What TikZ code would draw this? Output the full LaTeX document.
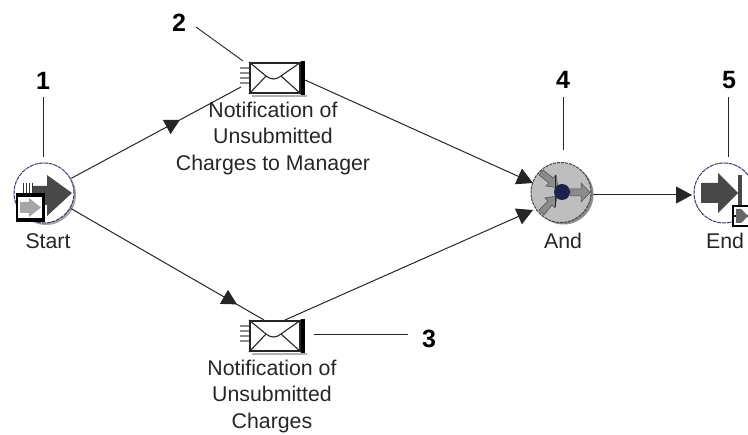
\documentclass[tikz,border=0pt]{standalone}
\usepackage{fontspec}
\setmainfont{Liberation Sans}
\usetikzlibrary{arrows.meta,decorations.markings,calc}
\definecolor{navyline}{HTML}{3A3A6E}
\definecolor{navydot}{HTML}{20204E}
\definecolor{darkarrow}{HTML}{484848}
\definecolor{andgrey}{HTML}{BEBEBE}
\tikzset{
  x=1pt,y=-1pt,
  roundnode/.style={circle,minimum size=60pt,inner sep=0pt,outer sep=1pt,draw=navyline,line width=1pt,dash pattern=on 4pt off 0.8pt,fill=white},
  andnode/.style={roundnode,draw=black!75,fill=andgrey,dash pattern=on 3pt off 1pt},
  envnode/.style={rectangle,minimum width=50pt,minimum height=30pt,inner sep=0pt,outer sep=1pt,draw=black!85,line width=1.4pt,fill=white},
  flow/.style={draw=black!85,line width=1pt},
  tipend/.style={flow,-{Triangle[length=16pt,width=17pt]}},
  tipmid/.style={flow,postaction={decorate},decoration={markings,mark=at position #1 with {\arrow{Triangle[length=15pt,width=16pt]}}}},
  leader/.style={draw=black!85,line width=0.9pt},
  caption/.style={font=\fontsize{21.3}{26.3}\selectfont,align=center,text=black!85,inner sep=0pt},
  numlabel/.style={font=\fontsize{25}{25}\selectfont\bfseries,inner sep=0pt},
  stripe/.style={draw=black!45,line width=1.1pt},
  iconarrow/.style={fill=darkarrow,draw=none},
  softshadow/.style={fill=black!35,draw=none},
  minigrey/.style={fill=black!45,draw=black!70,line width=0.5pt}
}
\newcommand{\envstuff}[1]{%
  \fill[black!30] ($(#1.south west)+(3,1)$) rectangle ($(#1.south east)+(6,3)$);
  \fill[black] ($(#1.north east)+(0,-1)$) rectangle ($(#1.south east)+(4,1)$);
  \draw[black!85,line width=1.1pt] (#1.north west) -- ($(#1.north west)+(17,14)$)
     .. controls ($(#1.north west)+(22,18)$) and ($(#1.north west)+(27,18)$) .. ($(#1.north west)+(32,14)$) -- (#1.north east);
  \draw[black!85,line width=1.1pt] (#1.south west) -- ($(#1.north west)+(17,14)$);
  \draw[black!85,line width=1.1pt] (#1.south east) -- ($(#1.north west)+(32,14)$);
  \foreach \d in {-10,-5,0,5} \draw[stripe] ($(#1.west)+(-9,\d)$) -- ++(9,0);
}
\begin{document}
\begin{tikzpicture}
\useasboundingbox (0,0) rectangle (748,435);
\clip (0,0) rectangle (748,435);
% shadows
\fill[black!35] (46,195) circle (30);
\fill[black!45] (563.5,194.5) circle (30);
% nodes
\node[roundnode] (start) at (44,193) {};
\node[andnode] (and) at (561,192.5) {};
\node[roundnode] (end) at (724,193) {};
\node[envnode] (envA) at (275,78) {};
\node[envnode] (envB) at (275,336) {};
\coordinate (envAin) at (241,87);
\coordinate (envAout) at (305,80);
\coordinate (envBin) at (264,320);
\coordinate (envBout) at (285,320);
\coordinate (andTop) at (533,183);
\coordinate (andBot) at (533,210);
\coordinate (andOut) at (593,195);
\coordinate (endIn) at (692,195);
% captions
\node[caption,anchor=north] (capS) at (48,233) {Start};
\node[caption,anchor=north] (capA) at (273,102) {Notification of\\Unsubmitted\\Charges to Manager};
\node[caption,anchor=north] (capB) at (272,360) {Notification of\\Unsubmitted\\Charges};
\node[caption,anchor=north] (capAnd) at (563,233) {And};
\node[caption,anchor=north] (capE) at (725,233) {End};
% connectors
\draw[tipmid=0.64] (start) -- (envAin);
\draw[tipmid=0.86] (start) -- (envBin);
\draw[tipend] (envAout) -- (andTop);
\draw[tipend] (envBout) -- (andBot);
\draw[tipend] (andOut) -- (endIn);
% number labels
\node[numlabel] (n1) at (43,81) {1};
\node[numlabel] (n2) at (179,23) {2};
\node[numlabel] (n3) at (429,339) {3};
\node[numlabel] (n4) at (563,80) {4};
\node[numlabel] (n5) at (729,80) {5};
\coordinate (f1) at (43,97);
\coordinate (t1) at (43,157);
\coordinate (f2) at (196,27);
\coordinate (t2) at (243,61);
\coordinate (f3) at (408,334);
\coordinate (t3) at (314,334);
\coordinate (f4) at (563,97);
\coordinate (t4) at (563,150);
\coordinate (f5) at (728,97);
\coordinate (t5) at (728,157);
\draw[leader] (f1) -- (t1);
\draw[leader] (f2) -- (t2);
\draw[leader] (f3) -- (t3);
\draw[leader] (f4) -- (t4);
\draw[leader] (f5) -- (t5);
% envelopes
\envstuff{envA}
\envstuff{envB}
% start icon
\fill[iconarrow] (33,186) -- (47,186) -- (47,175) -- (72,193) -- (47,216) -- (47,205) -- (33,205) -- cycle;
\foreach \x in {23,26,29,32} \draw[black!80,line width=0.9pt] (\x,183) -- (\x,194);
\fill[white] (17,194) rectangle (44,221);
\fill[black] (16,193) rectangle (45,197);
\fill[black] (16,218) rectangle (45,222);
\fill[black] (16,193) rectangle (18,222);
\fill[black] (42,193) rectangle (45,222);
\fill[black!35] (20,202) -- (29,202) -- (29,198) -- (41,207.5) -- (29,217) -- (29,213) -- (20,213) -- cycle;
% and icon
\fill[minigrey] (543,170) -- (553,178) -- (556,175) -- (558,188) -- (546,186) -- (549,183) -- (539,175) -- cycle;
\fill[minigrey] (539,210) -- (548,201) -- (545,198) -- (557,196) -- (555,208) -- (552,205) -- (544,215) -- cycle;
\fill[minigrey] (570,189) -- (581,189) -- (581,183) -- (590,192.5) -- (581,202) -- (581,196) -- (570,196) -- cycle;
\draw[black!85,line width=1pt] (555,175) -- (555,207);
\fill[navydot] (562,192) circle (8);
% end icon
\fill[iconarrow] (701,183) -- (718,183) -- (718,173) -- (738,193) -- (718,213) -- (718,203) -- (701,203) -- cycle;
\fill[darkarrow] (738,175) rectangle (742,206);
\fill[white] (733,206) rectangle (748,226);
\draw[black,line width=1.6pt] (733,206) rectangle (750,226);
\draw[black,line width=1.2pt] (733,216) -- (748,216);
\fill[black!60] (736,209) -- (741,209) -- (748,216) -- (741,223) -- (736,223) -- cycle;
\end{tikzpicture}
\end{document}
